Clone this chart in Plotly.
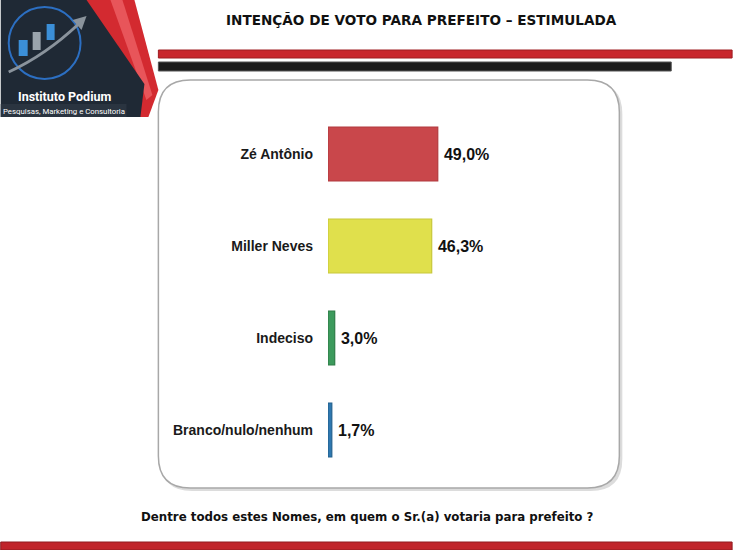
import plotly.graph_objects as go

# dados da pesquisa
categorias = ["Zé Antônio", "Miller Neves", "Indeciso", "Branco/nulo/nenhum"]
valores = [49.0, 46.3, 3.0, 1.7]
rotulos = ["49,0%", "46,3%", "3,0%", "1,7%"]
cores = ["#c9474b", "#e0e04c", "#3c9a5c", "#2e78b0"]
bordas = ["#b23a3e", "#c8c83a", "#2e7c47", "#23608e"]

titulo = "INTENÇÃO DE VOTO PARA PREFEITO – ESTIMULADA"
pergunta = "Dentre todos estes Nomes, em quem o Sr.(a) votaria para prefeito ?"

W, H = 733, 550
L, R, T, B = 328, 180.5, 108, 74
pw = W - L - R
ph = H - T - B


def px(x):
    return (x - L) / pw


def py(y):
    return (H - B - y) / ph


def poly(pts):
    s = "M" + " L".join(f"{px(x)},{py(y)}" for x, y in pts) + " Z"
    return s


def caixa(x0, y0, x1, y1, r):
    return (f"M{px(x0 + r)},{py(y0)} L{px(x1 - r)},{py(y0)} "
            f"Q{px(x1)},{py(y0)} {px(x1)},{py(y0 + r)} "
            f"L{px(x1)},{py(y1 - r)} Q{px(x1)},{py(y1)} {px(x1 - r)},{py(y1)} "
            f"L{px(x0 + r)},{py(y1)} Q{px(x0)},{py(y1)} {px(x0)},{py(y1 - r)} "
            f"L{px(x0)},{py(y0 + r)} Q{px(x0)},{py(y0)} {px(x0 + r)},{py(y0)} Z")


fig = go.Figure()
fig.add_trace(go.Bar(
    x=valores, y=categorias, orientation="h",
    marker=dict(color=cores, line=dict(color=bordas, width=1.2)),
    width=0.587, text=rotulos, texttemplate="\u2009%{text}",
    textposition="outside", cliponaxis=False,
    textfont=dict(family="Liberation Sans", size=16, color="#111111", weight="bold"),
    hoverinfo="skip"))

shapes = []
# caixa branca arredondada com sombra
shapes.append(dict(type="path", xref="paper", yref="paper", layer="below",
                   path=caixa(160, 82, 623, 491, 32),
                   fillcolor="#dcdcdc", line=dict(width=0)))
shapes.append(dict(type="path", xref="paper", yref="paper", layer="below",
                   path=caixa(158, 80, 620, 488, 32),
                   fillcolor="white", line=dict(color="#a8a8a8", width=1.5)))
# faixas do topo
shapes.append(dict(type="rect", xref="paper", yref="paper", layer="below",
                   x0=px(158), x1=px(733), y0=py(50), y1=py(58),
                   fillcolor="#c8262c", line=dict(color="#9e1c21", width=1)))
shapes.append(dict(type="rect", xref="paper", yref="paper", layer="below",
                   x0=px(158), x1=px(672), y0=py(62), y1=py(71),
                   fillcolor="#1c1c1c", line=dict(color="#555555", width=1)))
# faixa de baixo
shapes.append(dict(type="rect", xref="paper", yref="paper", layer="below",
                   x0=px(0), x1=px(733), y0=py(542), y1=py(550),
                   fillcolor="#c0242a", line=dict(color="#8f1a1e", width=1)))
# logo
shapes.append(dict(type="path", xref="paper", yref="paper", layer="below",
                   path=poly([(80, 0), (134, 0), (158, 90), (148, 117), (120, 117)]),
                   fillcolor="#d32a30", line=dict(width=0)))
shapes.append(dict(type="path", xref="paper", yref="paper", layer="below",
                   path=poly([(110, 0), (122, 0), (152, 95), (146, 100)]),
                   fillcolor="#e8555a", line=dict(width=0)))
shapes.append(dict(type="path", xref="paper", yref="paper", layer="below",
                   path=poly([(0, 0), (86, 0), (144, 84), (140, 117), (0, 117)]),
                   fillcolor="#1f2935", line=dict(width=0)))
shapes.append(dict(type="rect", xref="paper", yref="paper", layer="below",
                   x0=px(0), x1=px(126), y0=py(104), y1=py(117),
                   fillcolor="#2a3440", line=dict(width=0)))
shapes.append(dict(type="circle", xref="paper", yref="paper", layer="below",
                   x0=px(8), x1=px(80), y0=py(7), y1=py(79),
                   line=dict(color="#2c6fc2", width=2)))
for (x0, y0, x1, y1, c) in [(18, 40, 27, 56, "#3b8fd8"),
                            (32, 32, 40, 50, "#9aa4ad"),
                            (46, 24, 54, 40, "#3b8fd8")]:
    shapes.append(dict(type="rect", xref="paper", yref="paper", layer="below",
                       x0=px(x0), x1=px(x1), y0=py(y0), y1=py(y1),
                       fillcolor=c, line=dict(width=0)))
shapes.append(dict(type="path", xref="paper", yref="paper", layer="below",
                   path=f"M{px(8)},{py(72)} Q{px(45)},{py(55)} {px(78)},{py(24)}",
                   line=dict(color="#8a939c", width=3)))
shapes.append(dict(type="path", xref="paper", yref="paper", layer="below",
                   path=poly([(72, 20), (86, 16), (81, 30)]),
                   fillcolor="#8a939c", line=dict(width=0)))


def nota(texto, x, y, size, family="DejaVu Sans", color="#111111", weight="bold"):
    return dict(text=texto, x=px(x), y=py(y), xref="paper", yref="paper",
                xanchor="center", yanchor="middle", showarrow=False,
                font=dict(family=family, size=size, color=color, weight=weight))


annotations = [
    nota(titulo, 422, 20, 13.6),
    nota(pergunta, 368, 517, 11.8),
    nota("Instituto Podium", 64, 96, 12.5, family="Roboto", color="white"),
    nota("Pesquisas, Marketing e Consultoria", 63, 111, 7.8, family="Roboto",
         color="white", weight="normal"),
]

fig.update_layout(
    width=W, height=H, margin=dict(l=L, r=R, t=T, b=B),
    paper_bgcolor="white", plot_bgcolor="rgba(0,0,0,0)",
    showlegend=False, shapes=shapes, annotations=annotations,
    xaxis=dict(range=[0, 100], visible=False, fixedrange=True),
    yaxis=dict(range=[3.5, -0.5], showgrid=False, showline=False, zeroline=False,
               ticks="", ticklabelstandoff=14, fixedrange=True,
               tickfont=dict(family="Liberation Sans", size=14, color="#1a1a1a", weight="bold")),
)

fig.write_html("out.html", config={"displayModeBar": False},
               post_script="document.body.style.margin='0';")
